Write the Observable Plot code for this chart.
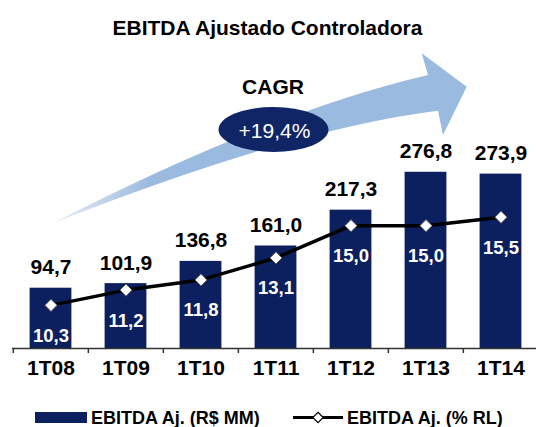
<!DOCTYPE html>
<html>
<head>
<meta charset="utf-8">
<script src="https://cdn.jsdelivr.net/npm/d3@7"></script>
<script src="https://cdn.jsdelivr.net/npm/@observablehq/plot@0.6"></script>
<style>
  html, body { margin: 0; padding: 0; background: white; }
  svg { display: block; }
</style>
</head>
<body>
<div id="chart"></div>
<script>
const title = "EBITDA Ajustado Controladora";
const categories = ["1T08", "1T09", "1T10", "1T11", "1T12", "1T13", "1T14"];
const ebitda = [94.7, 101.9, 136.8, 161.0, 217.3, 276.8, 273.9];
const marginPct = [10.3, 11.2, 11.8, 13.1, 15.0, 15.0, 15.5];
const cagrLabel = "CAGR";
const cagrValue = "+19,4%";
const legendBar = "EBITDA Aj. (R$ MM)";
const legendLine = "EBITDA Aj. (% RL)";

const fmt = v => v.toFixed(1).replace(".", ",");
const data = categories.map((c, i) => ({cat: c, value: ebitda[i], pct: marginPct[i]}));
// secondary axis (% RL) mapped into the bar axis units
const pctToY = d3.scaleLinear([10, 16], [59.8, 219.5]);

const FONT = "'Liberation Sans', Arial, sans-serif";
const NAVY = "#0c1f5e";

const chart = Plot.plot({
  width: 536, height: 427,
  marginTop: 157, marginBottom: 79, marginLeft: 12, marginRight: -3,
  x: {domain: categories, padding: 0, axis: null},
  y: {domain: [0, 300], axis: null},
  style: {fontFamily: FONT, background: "white", overflow: "hidden", color: "black"},
  marks: [
    Plot.barY(data, {x: "cat", y: "value", fill: NAVY, insetLeft: 16.6, insetRight: 16.6}),
    Plot.ruleY([0], {stroke: "#333", strokeWidth: 1.5}),
    Plot.ruleX(data, {x: "cat", y1: 0, y2: -7.85, dx: -37.65, stroke: "#333", strokeWidth: 1.5}),
    Plot.line(data, {x: "cat", y: d => pctToY(d.pct), stroke: "black", strokeWidth: 3.5}),
    Plot.dot(data, {x: "cat", y: d => pctToY(d.pct), symbol: "diamond2", r: 5.5, fill: "white", stroke: "#555", strokeWidth: 1}),
    Plot.text(data, {x: "cat", y: "value", text: d => fmt(d.value), lineAnchor: "bottom", dy: -14, fontSize: 21, fontWeight: "bold", fill: "black"}),
    Plot.text(data, {x: "cat", y: d => pctToY(d.pct), text: d => fmt(d.pct), dy: 30.5, fontSize: 18.5, fontWeight: "bold", fill: "white"}),
    Plot.text(data, {x: "cat", frameAnchor: "bottom", text: "cat", dy: 26, fontSize: 21, fontWeight: "bold", fill: "black"}),
    Plot.text([title], {frameAnchor: "top", dx: -8.5, dy: -123, lineAnchor: "bottom", fontSize: 21, fontWeight: "bold", fill: "black"}),
    Plot.text([cagrLabel], {frameAnchor: "top", dx: -3, dy: -63.5, lineAnchor: "bottom", fontSize: 21, fontWeight: "bold", fill: "black"}),
    Plot.text([cagrValue], {frameAnchor: "top", dx: -1.5, dy: -19.5, lineAnchor: "bottom", fontSize: 21, fill: "white"})
  ]
});

// decorations: arrow + ellipse behind marks
const svg = d3.select(chart);
const deco = svg.insert("g", "g");
const defs = deco.append("defs");
const grad = defs.append("linearGradient").attr("id", "arrowGrad")
  .attr("gradientUnits", "userSpaceOnUse").attr("x1", 50).attr("y1", 0).attr("x2", 150).attr("y2", 0);
grad.append("stop").attr("offset", 0).attr("stop-color", "#9bbae0").attr("stop-opacity", 0.2);
grad.append("stop").attr("offset", 1).attr("stop-color", "#9bbae0").attr("stop-opacity", 1);
deco.append("path")
  .attr("d", "M53,223 Q270,112 428,75 L421.7,53.3 L466.7,86.7 L443,135 L438,110.7 Q295,128 53,223 Z")
  .attr("fill", "url(#arrowGrad)");
deco.append("ellipse").attr("cx", 273.5).attr("cy", 129.5).attr("rx", 55).attr("ry", 22.5).attr("fill", "#0f2566");

// legend
const leg = svg.append("g").attr("font-family", FONT).attr("font-weight", "bold").attr("font-size", 18)
  .attr("text-anchor", "start");
leg.append("rect").attr("x", 35).attr("y", 412).attr("width", 52).attr("height", 11).attr("fill", NAVY);
leg.append("text").attr("x", 91).attr("y", 424).attr("text-anchor", "start").text(legendBar);
leg.append("line").attr("x1", 293).attr("x2", 343).attr("y1", 417.5).attr("y2", 417.5).attr("stroke", "black").attr("stroke-width", 3);
leg.append("path").attr("d", d3.symbol(d3.symbolDiamond2, 70)()).attr("transform", "translate(318,417.5)")
  .attr("fill", "white").attr("stroke", "black").attr("stroke-width", 1.2);
leg.append("text").attr("x", 347).attr("y", 424).attr("text-anchor", "start").text(legendLine);

document.getElementById("chart").appendChild(chart);
</script>
</body>
</html>
